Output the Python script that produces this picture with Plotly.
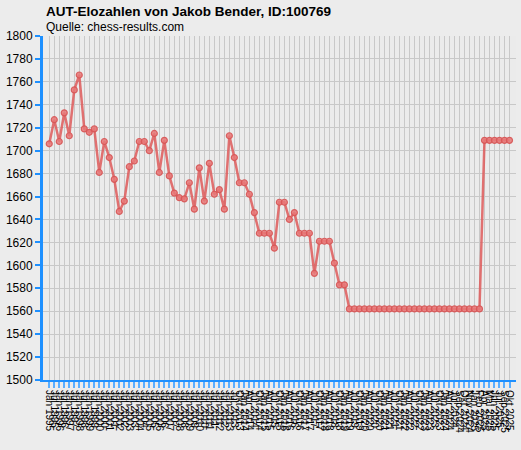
import plotly.graph_objects as go

labels = [
    "Jän 1995", "Jul 1995", "Jän 1996", "Jul 1996", "Jän 1997", "Jul 1997", "Jän 1998", "Jul 1998",
    "Jän 1999", "Jul 1999", "Jän 2000", "Jul 2000", "Jän 2001", "Jul 2001", "Jän 2002", "Jul 2002",
    "Jän 2003", "Jul 2003", "Jän 2004", "Jul 2004", "Jän 2005", "Jul 2005", "Jän 2006", "Jul 2006",
    "Jän 2007", "Jul 2007", "Jän 2008", "Jul 2008", "Jän 2009", "Jul 2009", "Jän 2010", "Jul 2010",
    "Jän 2011", "Jul 2011", "Jän 2012", "Jul 2012", "Jän 2013", "Jul 2013", "Okt 2013", "Jän 2014",
    "Apr 2014", "Jul 2014", "Okt 2014", "Jän 2015", "Apr 2015", "Jul 2015", "Okt 2015", "Jän 2016",
    "Apr 2016", "Jul 2016", "Okt 2016", "Jän 2017", "Apr 2017", "Jul 2017", "Okt 2017", "Jän 2018",
    "Apr 2018", "Jul 2018", "Okt 2018", "Jän 2019", "Apr 2019", "Jul 2019", "Okt 2019", "Jän 2020",
    "Apr 2020", "Jul 2020", "Okt 2020", "Jän 2021", "Apr 2021", "Jul 2021", "Okt 2021", "Jän 2022",
    "Apr 2022", "Jul 2022", "Okt 2022", "Jän 2023", "Apr 2023", "Jul 2023", "Okt 2023", "Jän 2024",
    "Apr 2024", "Jul 2024", "Sep 2024", "Okt 2024", "Nov 2024", "Jän 2025", "Feb 2025", "Apr 2025",
    "Mai 2025", "Jun 2025", "Jul 2025", "Sep 2025", "Okt 2025",
]

elo = [
    1706, 1727, 1708, 1733, 1713, 1753, 1766, 1719, 1716, 1719,
    1681, 1708, 1694, 1675, 1647, 1656, 1686, 1691, 1708, 1708,
    1700, 1715, 1681, 1709, 1678, 1663, 1659, 1658, 1672, 1649,
    1685, 1656, 1689, 1662, 1666, 1649, 1713, 1694, 1672, 1672,
    1662, 1646, 1628, 1628, 1628, 1615, 1655, 1655, 1640, 1646,
    1628, 1628, 1628, 1593, 1621, 1621, 1621, 1602, 1583, 1583,
    1562, 1562, 1562, 1562, 1562, 1562, 1562, 1562, 1562, 1562,
    1562, 1562, 1562, 1562, 1562, 1562, 1562, 1562, 1562, 1562,
    1562, 1562, 1562, 1562, 1562, 1562, 1562, 1709, 1709, 1709,
    1709, 1709, 1709,
]

y_ticks = list(range(1500, 1801, 20))

idx = list(range(len(elo)))

fig = go.Figure()
fig.add_trace(go.Scatter(
    x=idx, y=elo, mode="lines+markers",
    line=dict(color="rgba(222,90,90,0.85)", width=2.5),
    marker=dict(size=6, color="rgba(232,120,120,0.85)",
                line=dict(color="rgba(215,85,85,0.9)", width=1.2)),
    hoverinfo="skip", showlegend=False,
))

fig.update_layout(
    width=521, height=450,
    margin=dict(l=43, r=5, t=36, b=70, autoexpand=False),
    paper_bgcolor="#ECECEC",
    plot_bgcolor="#EBEBEB",
    font=dict(family="Liberation Sans, Arial, sans-serif", color="#000000", size=11),
    xaxis=dict(
        range=[-1.25, 93.3], automargin=False,
        tickmode="array", tickvals=idx, ticktext=labels,
        tickangle=90, tickfont=dict(size=10),
        showgrid=True, gridcolor="#C8C8C8", gridwidth=1,
        zeroline=False,
        showline=True, linecolor="#1E90FF", linewidth=2,
        ticks="outside", ticklen=6, tickcolor="#5AAEFF", tickwidth=2,
    ),
    yaxis=dict(
        range=[1500, 1800], automargin=False,
        tickmode="array", tickvals=y_ticks,
        tickfont=dict(size=12),
        showgrid=True, gridcolor="#C8C8C8", gridwidth=1,
        zeroline=False,
        showline=True, linecolor="#1E90FF", linewidth=3,
        ticks="outside", ticklen=5, tickcolor="#1E90FF", tickwidth=2,
    ),
    annotations=[
        dict(text="<b>AUT-Elozahlen von Jakob Bender, ID:100769</b>",
             xref="paper", yref="paper", x=0.002, y=1.07,
             xanchor="left", yanchor="middle", showarrow=False,
             font=dict(size=13.5, color="#000000")),
        dict(text="Quelle: chess-results.com",
             xref="paper", yref="paper", x=0.002, y=1.026,
             xanchor="left", yanchor="middle", showarrow=False,
             font=dict(size=12, color="#000000")),
    ],
)

fig.write_html(
    "out.html",
    config={"displayModeBar": False},
    post_script="document.body.style.margin='0';document.body.style.background='#ECECEC';",
)
